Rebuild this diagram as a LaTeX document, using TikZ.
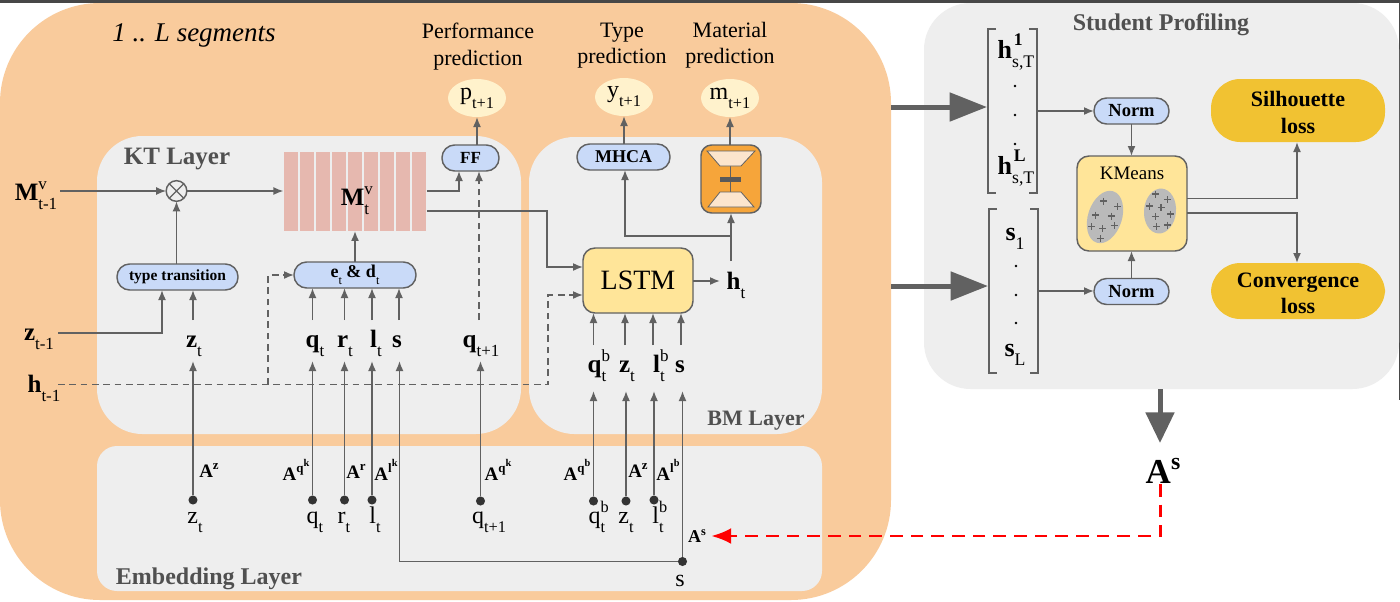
\documentclass[tikz,border=0pt]{standalone}
\usepackage{fontspec}
\usepackage{graphicx}
\setmainfont{Liberation Serif}
\usetikzlibrary{arrows.meta,shapes.geometric,shapes.misc,calc}
\definecolor{segc}{HTML}{F9CB9C}
\definecolor{layc}{HTML}{EEEEEE}
\definecolor{linec}{HTML}{616161}
\definecolor{blueb}{HTML}{C9DAF8}
\definecolor{yelb}{HTML}{FFE599}
\definecolor{creamc}{HTML}{FFF2CC}
\definecolor{goldc}{HTML}{F1C232}
\definecolor{orangec}{HTML}{F6A53A}
\definecolor{pinkc}{HTML}{E6B8AF}
\definecolor{peachc}{HTML}{FCE5CD}
\definecolor{titlec}{HTML}{505050}
\newcommand\px[1]{\fontsize{\fpeval{#1*0.75}pt}{\fpeval{#1*0.9}pt}\selectfont}
\newcommand\subs[1]{\raisebox{-.38em}{\scalebox{.68}{\mdseries #1}}}
\newcommand\sups[1]{\raisebox{.42em}{\scalebox{.68}{\mdseries #1}}}
\newcommand\both[3]{#1\rlap{\sups{#2}}\subs{#3}}
\newcommand\emb[2]{\textbf{A}\raisebox{.42em}{\scalebox{.68}{\textbf{#1}\raisebox{.42em}{\scalebox{.8}{\textbf{#2}}}}}}
\tikzset{
  every node/.style={inner sep=0pt,outer sep=0pt},
  arr/.style={draw=linec,line width=1.2pt,-{Latex[length=7.5pt,width=6pt]}},
  darr/.style={arr,dash pattern=on 5pt off 3.5pt},
  plain/.style={draw=linec,line width=1.1pt},
  pill/.style={rectangle,rounded corners=9.5pt,draw=linec,line width=1.1pt,fill=blueb,font=\bfseries},
  fat/.style={draw=linec,line width=3.75pt,-{Triangle[length=28pt,width=21pt]}},
  fatd/.style={draw=linec,line width=3.75pt,-{Triangle[length=23pt,width=21pt]}},
  dotn/.style={circle,fill=black!80,minimum size=6.8pt},
  lab/.style={anchor=base,font=\px{25}\bfseries,text height=20.25pt,text depth=10.5pt},
  labb/.style={anchor=base,font=\px{25}\bfseries,text height=20.25pt,text depth=14.25pt},
  emblab/.style={font=\px{19}},
  val/.style={font=\px{24},anchor=base},
  head/.style={font=\px{22},align=center},
  ttl/.style={font=\bfseries,text=titlec},
  outv/.style={ellipse,fill=creamc,minimum width=43.5pt,minimum height=28.5pt,font=\px{24}},
  loss/.style={rectangle,rounded corners=22pt,fill=goldc},
  losst/.style={align=center,font=\px{22}\bfseries},
  blob/.style={ellipse,fill=black!27},
  brk/.style={draw=linec,line width=1pt},
}
\begin{document}
\begin{tikzpicture}[x=0.75pt,y=-0.75pt]
\useasboundingbox (0,0) rectangle (1400,601);
\fill[white] (0,0) rectangle (1400,601);
\fill[black!72] (0,0) rectangle (1400,2.5);
\fill[black!72] (1399,0) rectangle (1400,400);
% regions
\node[rectangle,fill=segc,rounded corners=75pt,minimum width=891*0.75pt,minimum height=597*0.75pt] (seg) at (445.5,301.5) {};
\node[rectangle,fill=layc,rounded corners=35pt,minimum width=475*0.75pt,minimum height=386*0.75pt] (stu) at (1161.5,196) {};
\node[rectangle,fill=layc,rounded corners=34pt,minimum width=424*0.75pt,minimum height=298*0.75pt] (kt) at (309,285) {};
\node[rectangle,fill=layc,rounded corners=34pt,minimum width=293*0.75pt,minimum height=297*0.75pt] (bm) at (675.5,285.5) {};
\node[rectangle,fill=layc,rounded corners=15pt,minimum width=725*0.75pt,minimum height=145*0.75pt] (emb) at (459.5,518.5) {};
% titles
\node[font=\px{27}\itshape] (segt) at (194,35) {1 .. L segments};
\node[ttl,font=\px{25}\bfseries] (ktt) at (177,159) {KT Layer};
\node[ttl,font=\px{22}\bfseries] (bmt) at (756,420.5) {BM Layer};
\node[ttl,font=\px{24}\bfseries] (embt) at (209,578.5) {Embedding Layer};
\node[ttl,font=\px{24}\bfseries] (stut) at (1161,24.5) {Student Profiling};
\node[head] (hp) at (478,46.5) {Performance\\prediction};
\node[head] (hy) at (622,45.5) {Type\\prediction};
\node[head] (hm) at (730,45.5) {Material\\prediction};
% outputs
\node[outv] (pn) at (477,98) {p\subs{t+1}};
\node[outv] (yn) at (624,97) {y\subs{t+1}};
\node[outv] (mn) at (730,98) {m\subs{t+1}};
% memory
\foreach \i in {0,...,8}{\fill[pinkc] ({283.5+16*\i},151.5) rectangle ++(14,79.5);}
\node[rectangle,minimum width=143.5*0.75pt,minimum height=79.5*0.75pt] (mem) at (355.2,191.2) {};
\node[font=\px{25}\bfseries] (memt) at (355,201) {\both{M}{v}{t}};
% blocks
\node[pill,font=\px{17}\bfseries,minimum width=57*0.75pt,minimum height=26*0.75pt] (ff) at (470.5,158) {FF};
\node[pill,font=\px{18}\bfseries,minimum width=93*0.75pt,minimum height=26*0.75pt] (mhca) at (623.5,157) {MHCA};
\node[pill,font=\px{15.5}\bfseries,minimum width=121*0.75pt,minimum height=26*0.75pt] (tt) at (177.5,277) {type transition};
\node[pill,font=\px{18}\bfseries,minimum width=122*0.75pt,minimum height=26*0.75pt] (ed) at (355,275) {e\subs{t} \& d\subs{t}};
\node[rectangle,draw=linec,line width=1.1pt,fill=yelb,rounded corners=9pt,font=\px{28},minimum width=110*0.75pt,minimum height=65*0.75pt] (lstm) at (638,280.5) {LSTM};
\node[font=\px{25}\bfseries,anchor=base] (ht) at (736,289) {h\subs{t}};
% autoencoder
\node[rectangle,draw=linec,line width=1.1pt,fill=orangec,rounded corners=8pt,minimum width=60*0.75pt,minimum height=68*0.75pt] (ae) at (731,179) {};
\draw[plain] (730.5,166)--(730.5,192);
\fill[fill=peachc,draw=linec,line width=.6pt] (707,151)--(755,151)--(741,166)--(720,166)--cycle;
\fill[fill=peachc,draw=linec,line width=.6pt] (708,207)--(754,207)--(741,192)--(720,192)--cycle;
\fill[black!65] (720,177) rectangle (741,182);
% otimes
\node[circle,draw=linec,line width=1.1pt,fill=layc,minimum size=15.5pt] (ot) at (176.5,191) {};
\draw[linec,line width=1pt] (ot.45)--(ot.225) (ot.135)--(ot.315);
% left inputs
\node[font=\px{25}\bfseries,anchor=base] (mp) at (36,200) {\both{M}{v}{t-1}};
\node[font=\px{25}\bfseries,anchor=base] (zp) at (39,340) {z\subs{t-1}};
\node[font=\px{25}\bfseries,anchor=base] (hpv) at (44,392) {h\subs{t-1}};
% KT labels
\node[lab] (lz) at (194,347) {z\subs{t}};
\node[lab] (lq) at (315,347) {q\subs{t}};
\node[lab] (lr) at (345,347) {r\subs{t}};
\node[lab] (ll) at (376,347) {l\subs{t}};
\node[lab] (ls) at (397,347) {s};
\node[lab] (lq1) at (481,347) {q\subs{t+1}};
% BM labels
\node[labb] (bq) at (597,372) {\both{q}{b}{t}};
\node[labb] (bz) at (627,372) {z\subs{t}};
\node[labb] (bl) at (659,372) {\both{l}{b}{t}};
\node[labb] (bs) at (680,372) {s};
% dots and values
\node[dotn] (dz) at (193,500) {};
\node[dotn] (dq) at (312.5,500) {};
\node[dotn] (dr) at (344.5,500) {};
\node[dotn] (dl) at (372,500) {};
\node[dotn] (dq1) at (480.5,501) {};
\node[dotn] (dbq) at (593.5,501) {};
\node[dotn] (dbz) at (626,501) {};
\node[dotn] (dbl) at (654,500) {};
\node[dotn] (ds) at (682.5,561.5) {};
\node[val] (vz) at (195,523) {z\subs{t}};
\node[val] (vq) at (315,523) {q\subs{t}};
\node[val] (vr) at (344,523) {r\subs{t}};
\node[val] (vl) at (375,523) {l\subs{t}};
\node[val] (vq1) at (489,523) {q\subs{t+1}};
\node[val] (vbq) at (597,523) {\both{q}{b}{t}};
\node[val] (vbz) at (626,523) {z\subs{t}};
\node[val] (vbl) at (658,523) {\both{l}{b}{t}};
\node[val] (vs) at (680,586) {s};
% embedding labels
\node[emblab] (a1) at (209,471) {\emb{z}{}};
\node[emblab] (a2) at (296,470) {\emb{q}{k}};
\node[emblab] (a3) at (356,471) {\emb{r}{}};
\node[emblab] (a4) at (386,470) {\emb{l}{k}};
\node[emblab] (a5) at (498,470) {\emb{q}{k}};
\node[emblab] (a6) at (577,470) {\emb{q}{b}};
\node[emblab] (a7) at (638,471) {\emb{z}{}};
\node[emblab] (a8) at (668,470) {\emb{l}{b}};
\node[emblab,font=\px{18}] (asl) at (697,536) {\emb{s}{}};
% student profiling
\node[rectangle,minimum width=49*0.75pt,minimum height=164*0.75pt] (brh) at (1012.5,111) {};
\node[rectangle,minimum width=49*0.75pt,minimum height=164*0.75pt] (brs) at (1013.5,291) {};
\draw[brk] ([xshift=6pt]brh.north west)-|(brh.south west)--+(8,0);
\draw[brk] ([xshift=-6pt]brh.north east)-|(brh.south east)--+(-8,0);
\draw[brk] ([xshift=6pt]brs.north west)-|(brs.south west)--+(8,0);
\draw[brk] ([xshift=-6pt]brs.north east)-|(brs.south east)--+(-8,0);
\node[font=\px{26}\bfseries,anchor=base] (h1) at (1016,58) {h\rlap{\raisebox{.48em}{\scalebox{.68}{\hspace{.1em}1}}}\subs{s,T}};
\node[font=\px{26}\bfseries,anchor=base] (hl) at (1016,174) {h\rlap{\raisebox{.48em}{\scalebox{.68}{\hspace{.1em}L}}}\subs{s,T}};
\node[font=\px{26}\bfseries,anchor=base] (s1) at (1015,240) {s\subs{1}};
\node[font=\px{26}\bfseries,anchor=base] (sl) at (1015,356) {s\subs{L}};
\foreach \y in {86,115,144}{\fill[black] (1015,\y) circle (1.1pt);}
\foreach \y in {266,295,323}{\fill[black] (1016,\y) circle (1.1pt);}
\node[pill,font=\px{18.5}\bfseries,minimum width=75*0.75pt,minimum height=26*0.75pt] (n1) at (1131.5,111) {Norm};
\node[pill,font=\px{18.5}\bfseries,minimum width=75*0.75pt,minimum height=26*0.75pt] (n2) at (1131.5,291.5) {Norm};
\node[rectangle,draw=linec,line width=1.1pt,fill=yelb,rounded corners=9pt,minimum width=110*0.75pt,minimum height=95*0.75pt] (km) at (1132,203.5) {};
\node[font=\px{19}] (kmt) at (1132,173) {KMeans};
\node[blob,minimum width=34*0.75pt,minimum height=54*0.75pt,rotate=-18] (b1) at (1105,217) {};
\node[blob,minimum width=32*0.75pt,minimum height=45*0.75pt,rotate=-5] (b2) at (1160,211) {};
\foreach \x/\y in {1103.7/201,1117.7/206.7,1095.7/215,1111.3/216,1091.7/226.7,1102.7/228.7,1114.3/225.7,1100.3/238.7,1155.7/194,1167.3/199.7,1149.7/206,1161/207.3,1170.7/214,1155.7/216.7,1156.7/226.7,1167.3/225}{
  \draw[linec,line width=1.1pt] (\x-3.5,\y)--(\x+3.5,\y) (\x,\y-3.5)--(\x,\y+3.5);}
\node[loss,minimum width=174*0.75pt,minimum height=63*0.75pt] (sil) at (1298,110.5) {};
\node[losst] (silt) at (1298,112.5) {Silhouette\\loss};
\node[loss,minimum width=174*0.75pt,minimum height=56*0.75pt] (con) at (1298,291) {};
\node[losst] (cont) at (1298,293.5) {Convergence\\loss};
\node[font=\px{35}\bfseries] (As) at (1163,471) {A\raisebox{.42em}{\scalebox{.68}{s}}};
% connectors
\coordinate (c1) at (459,191);
\coordinate (c2) at (547,211);
\coordinate (c3) at (547,267);
\coordinate (c4) at (625,236);
\coordinate (c5) at (731,261);
\coordinate (c6) at (268,384.5);
\coordinate (c7) at (548,295);
\coordinate (c8) at (720,281);
\coordinate (c9) at (58,384.5);
\coordinate (c10) at (162,333);
\coordinate (c11) at (58,333);
\coordinate (c12) at (60,191);
\draw[arr] (c12)--(ot.west);
\draw[arr] (ot.east)--(mem.west |- ot);
\draw[arr] (tt.north -| ot)--(ot.south);
\draw[arr] (mem.east |- c1)-|(ff.south -| c1);
\draw[arr] (mem.east |- c2)-|(c3)--(c3 -| lstm.west);
\draw[arr] (ed.north)--(mem.south -| ed);
\draw[arr] (pn.south |- ff.north)--(pn.south);
\draw[arr] (yn.south |- mhca.north)--(yn.south);
\draw[arr] (mn.south |- ae.north)--(mn.south);
\draw[arr] (lstm.east |- c8)--(c8);
\draw[arr] (c5)--(ae.south -| c5);
\draw[arr] (c5 |- c4)-|(mhca.south -| c4);
\draw[arr] (c11)-|(tt.south -| c10);
\draw[darr] (lq1.north -| 479,0)--(ff.south -| 479,0);
\draw[darr] (c9)-|(c7)--(c7 -| lstm.west);
\draw[darr] (c6)|-(ed.west);
\draw[arr] (lz.north -| dz)--(tt.south -| dz);
\foreach \a/\b in {lq/dq,lr/dr,ll/dl}{\draw[arr] (\a.north -| \b)--(ed.south -| \b);}
\draw[arr] (ls.north -| 399,0)--(ed.south -| 399,0);
\draw[arr] (dz)--(lz.south -| dz);
\draw[arr] (dq)--(lq.south -| dq);
\draw[arr] (dr)--(lr.south -| dr);
\draw[arr] (dl)--(ll.south -| dl);
\draw[arr] (dq1)--(lq1.south -| dq1);
\draw[arr] (dbq)--(bq.south -| dbq);
\draw[arr] (dbz)--(bz.south -| dbz);
\draw[arr] (dbl)--(bl.south -| dbl);
\draw[arr] (ds)--(bs.south -| ds);
\draw[arr] (ds)-|(ls.south -| 399.5,0);
\draw[arr] (bq.north -| dbq)--(lstm.south -| dbq);
\draw[arr] (bz.north -| 625,0)--(lstm.south -| 625,0);
\draw[arr] (bl.north -| 653,0)--(lstm.south -| 653,0);
\draw[arr] (bs.north -| 681,0)--(lstm.south -| 681,0);
% student connectors
\coordinate (f1) at (987,107);
\coordinate (f2) at (988,286);
\coordinate (f3) at (1160,443);
\draw[fat] (seg.east |- f1)--(f1);
\draw[fat] (seg.east |- f2)--(f2);
\draw[fatd] (stu.south -| f3)--(f3);
\draw[arr] (brh.east)--(brh.east -| n1.west);
\draw[arr] (brs.east)--(brs.east -| n2.west);
\draw[arr] (n1.south)--(n1.south |- km.north);
\draw[arr] (n2.north)--(n2.north |- km.south);
\coordinate (k1) at (1297,198.5);
\coordinate (k2) at (1297,213);
\draw[arr] (km.east |- k1)-|(sil.south -| k1);
\draw[arr] (km.east |- k2)-|(con.north -| k2);
\draw[red,line width=2.2pt,dash pattern=on 9.5pt off 6pt,-{Latex[length=15pt,width=12pt]}] (As.south -| 1160.5,0)|-([xshift=4pt]asl.east);
\end{tikzpicture}
\end{document}
